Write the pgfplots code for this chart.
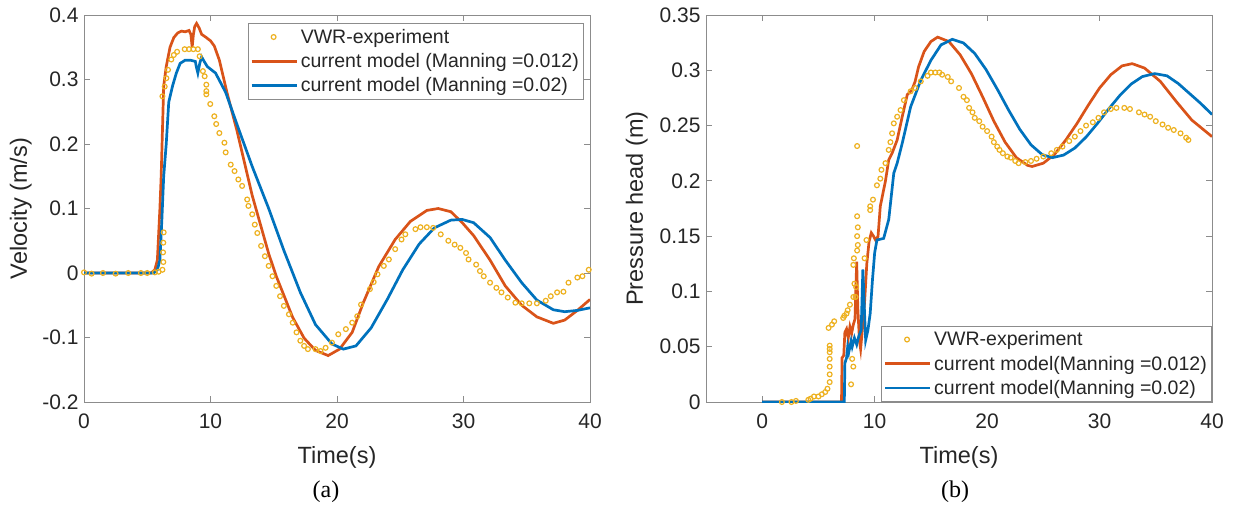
\documentclass[border=0pt]{standalone}
\usepackage{fontspec}
\setmainfont{Liberation Sans}
\newfontfamily\capfont{Liberation Serif}
\usepackage{pgfplots}
\pgfplotsset{compat=1.18}
\definecolor{mYellow}{HTML}{EDB120}
\definecolor{mOrange}{HTML}{D95319}
\definecolor{mBlue}{HTML}{0072BD}
\definecolor{axgray}{HTML}{8C8C8C}
\definecolor{txt}{HTML}{262626}

\pgfplotsset{
  matfig/.style={
    scale only axis, width=506pt, height=387pt,
    axis line style={axgray, line width=0.9pt},
    tick style={axgray, line width=0.9pt},
    major tick length=6pt,
    tick align=inside,
    /pgf/number format/assume math mode=true,
    scaled y ticks=false,
    ticklabel style={font=\fontsize{21}{24}\selectfont, text=txt},
    xticklabel style={yshift=-8pt},
    yticklabel style={xshift=-2pt},
    label style={font=\fontsize{23.5}{27}\selectfont, text=txt},
    legend cell align=left,
    legend style={draw=axgray, line width=0.8pt, fill=white,
      font=\fontsize{19.5}{22}\selectfont, text=txt,
      inner xsep=2pt, inner ysep=3pt, row sep=3pt,
      nodes={inner sep=2.8pt}},
  },
  expline/.style={mOrange, line width=2.7pt, mark=none,
    legend image code/.code={\draw[##1] (0pt,0pt) -- (45pt,0pt);}},
  blueline/.style={mBlue, line width=2.7pt, mark=none,
    legend image code/.code={\draw[##1] (0pt,0pt) -- (45pt,0pt);}},
  dots/.style={only marks, mark=o, mark size=2.4pt,
    mark options={mYellow, line width=1.2pt},
    legend image code/.code={\draw[##1] plot coordinates {(22pt,0pt)};}},
}

\begin{document}
\begin{tikzpicture}
\path[use as bounding box] (0pt,0pt) rectangle (1233pt,-509pt);

% ---------------- (a) velocity ----------------
\begin{axis}[matfig, at={(84pt,-15pt)}, anchor=north west,
  xmin=0, xmax=40, ymin=-0.2, ymax=0.4,
  xtick={0,10,20,30,40},
  ytick={-0.2,-0.1,0,0.1,0.2,0.3,0.4},
  yticklabels={-0.2,-0.1,0,0.1,0.2,0.3,0.4},
  xlabel={Time(s)}, ylabel={Velocity (m/s)},
  xlabel style={at={(axis description cs:0.5,-0.142)}, anchor=center},
  ylabel style={at={(axis description cs:-0.125,0.5)}, anchor=center},
  legend style={at={(1,1)}, anchor=north east, xshift=-6pt, yshift=-8pt},
]
\addplot[dots] coordinates {
(0,0.001)(0.6,-0.001)(1.5,0)(2.5,-0.001)(3.5,0)(4.5,0)(5.0,0)(5.6,0.001)
(5.9,0.002)(6.2,0.005)(6.27,0.017)(6.25,0.032)(6.27,0.047)(6.3,0.063)
(6.2,0.274)(6.38,0.289)(6.51,0.302)(6.64,0.315)(6.9,0.331)(7.1,0.338)(7.36,0.343)
(7.96,0.347)(8.3,0.347)(8.65,0.347)(9.0,0.347)(9.14,0.336)(9.4,0.313)(9.54,0.305)
(9.67,0.292)(9.67,0.282)(9.67,0.277)(9.98,0.262)(10.3,0.243)(10.45,0.231)(10.7,0.217)
(11.1,0.202)(11.2,0.187)(11.6,0.168)(11.9,0.158)(12.2,0.145)(12.5,0.135)(12.9,0.114)
(13.0,0.104)(13.3,0.091)(13.5,0.075)(13.7,0.062)(14.0,0.042)(14.3,0.026)(14.6,0.011)
(14.9,-0.005)(15.2,-0.02)(15.5,-0.036)(15.8,-0.051)(16.2,-0.064)(16.5,-0.077)
(16.8,-0.092)(17.1,-0.105)(17.4,-0.113)(17.7,-0.118)(18.3,-0.118)(18.7,-0.121)
(19.1,-0.116)(19.6,-0.108)(20.1,-0.095)(20.7,-0.087)(21.2,-0.077)(21.6,-0.067)
(21.9,-0.049)(22.6,-0.025)(22.9,-0.014)(23.2,-0.002)(23.7,0.011)(24.1,0.021)
(24.6,0.037)(25.1,0.052)(25.4,0.06)(26.2,0.068)(26.6,0.071)(27.1,0.071)(27.6,0.07)
(28.2,0.06)(28.8,0.05)(29.3,0.044)(29.75,0.039)(30.2,0.031)(30.4,0.021)(31.0,0.013)
(31.3,0.003)(31.6,-0.005)(32.1,-0.015)(32.6,-0.023)(33.0,-0.03)(33.5,-0.038)
(34.1,-0.046)(34.6,-0.047)(35.2,-0.047)(35.8,-0.047)(36.5,-0.043)(36.9,-0.036)
(37.4,-0.03)(37.9,-0.029)(38.3,-0.015)(39.0,-0.007)(39.4,-0.005)(39.9,0.005)
};
\addlegendentry{VWR-experiment}
\addplot[expline] coordinates {
(0,0)(3,0)(5.3,0)(5.6,0.005)(5.8,0.02)(6.0,0.1)(6.1,0.15)(6.2,0.22)(6.3,0.29)
(6.5,0.32)(6.8,0.35)(7.1,0.365)(7.4,0.372)(7.7,0.375)(8.0,0.374)(8.3,0.376)
(8.45,0.37)(8.55,0.35)(8.65,0.37)(8.75,0.382)(8.9,0.387)(9.1,0.38)(9.3,0.37)
(9.6,0.366)(10.0,0.36)(10.3,0.352)(10.7,0.33)(11.0,0.305)(11.3,0.28)(12.1,0.22)
(13.3,0.12)(14.6,0.03)(15.2,-0.005)(16.5,-0.069)(17.4,-0.101)(18.3,-0.12)
(19.3,-0.128)(20.2,-0.118)(21.2,-0.092)(22.1,-0.045)(23.3,0.01)(24.6,0.052)
(25.8,0.08)(27.1,0.097)(28.0,0.1)(29.0,0.095)(29.9,0.078)(30.8,0.058)(32.1,0.02)
(33.3,-0.02)(34.6,-0.05)(35.8,-0.068)(37.1,-0.078)(38.0,-0.073)(39.0,-0.058)(40,-0.041)
};
\addlegendentry{current model (Manning =0.012)}
\addplot[blueline] coordinates {
(0,0)(3,0)(5.5,0)(5.8,0.005)(6.0,0.02)(6.15,0.08)(6.3,0.15)(6.5,0.2)(6.7,0.265)
(7.0,0.29)(7.3,0.31)(7.6,0.325)(8.0,0.33)(8.4,0.33)(8.8,0.328)(8.9,0.318)(9.0,0.31)
(9.15,0.325)(9.3,0.335)(9.5,0.328)(9.75,0.32)(10.4,0.31)(11.2,0.28)(12.1,0.23)
(13.3,0.165)(14.6,0.1)(15.8,0.035)(17.1,-0.03)(18.3,-0.08)(19.6,-0.11)(20.5,-0.118)
(21.5,-0.113)(22.7,-0.085)(24.0,-0.04)(25.2,0.005)(26.5,0.045)(27.7,0.07)(29.0,0.082)
(29.9,0.083)(30.8,0.078)(32.1,0.055)(33.3,0.02)(34.6,-0.015)(35.8,-0.042)
(37.1,-0.057)(38.0,-0.06)(39.0,-0.058)(40,-0.054)
};
\addlegendentry{current model (Manning =0.02)}
\end{axis}

% ---------------- (b) pressure head ----------------
\begin{axis}[matfig, at={(706pt,-15pt)}, anchor=north west,
  xmin=-5, xmax=40, ymin=0, ymax=0.35,
  xtick={0,10,20,30,40},
  ytick={0,0.05,0.1,0.15,0.2,0.25,0.3,0.35},
  yticklabels={0,0.05,0.1,0.15,0.2,0.25,0.3,0.35},
  xlabel={Time(s)}, ylabel={Pressure head (m)},
  xlabel style={at={(axis description cs:0.5,-0.142)}, anchor=center},
  ylabel style={at={(axis description cs:-0.137,0.5)}, anchor=center},
  legend style={at={(1,0)}, anchor=south east},
]
\addplot[dots] coordinates {
(1.75,0)(2.6,0)(3.0,0.001)(4.1,0.002)(4.3,0.003)(4.6,0.005)(5.0,0.005)(5.3,0.007)
(5.6,0.009)(5.8,0.012)(6.0,0.018)(6.0,0.025)(6.0,0.032)(6.0,0.039)(6.0,0.045)
(6.0,0.048)(6.0,0.051)(5.9,0.067)(6.2,0.07)(6.4,0.073)
(7.2,0.076)(7.3,0.078)(7.5,0.08)(7.6,0.083)(7.8,0.088)(8.1,0.095)(8.2,0.107)
(8.1,0.124)(8.15,0.13)(8.0,0.039)(8.1,0.032)(7.9,0.016)
(8.3,0.095)(8.35,0.104)(8.44,0.137)(8.5,0.142)(8.44,0.15)(8.5,0.158)(8.44,0.168)
(8.44,0.2315)(9.27,0.1465)(9.1,0.13)(9.6,0.1736)(9.6,0.177)(9.85,0.183)(10.2,0.196)
(10.5,0.202)(10.6,0.21)(10.96,0.216)(11.25,0.228)(11.4,0.235)(11.55,0.243)
(11.7,0.252)(12.0,0.258)(12.3,0.264)(12.6,0.273)(13.2,0.281)(13.6,0.284)(14.1,0.29)
(14.7,0.295)(15.0,0.298)(15.4,0.298)(15.75,0.298)(16.0,0.296)(16.5,0.294)
(16.8,0.29)(17.5,0.284)(17.9,0.276)(18.2,0.273)(18.4,0.266)(18.7,0.262)(18.9,0.257)
(19.3,0.254)(19.6,0.249)(20.0,0.245)(20.4,0.24)(20.6,0.235)(20.9,0.231)(21.1,0.228)
(21.4,0.225)(21.8,0.222)(22.1,0.221)(22.5,0.218)(22.8,0.216)(23.4,0.217)(23.9,0.218)
(24.4,0.22)(25.0,0.222)(25.7,0.225)(26.2,0.228)(26.7,0.231)(27.3,0.236)(27.8,0.24)
(28.3,0.245)(28.8,0.25)(29.4,0.253)(29.9,0.257)(30.4,0.262)(31.0,0.265)(31.5,0.266)
(32.2,0.266)(32.7,0.265)(33.5,0.262)(34.0,0.26)(34.5,0.258)(35.0,0.254)(35.6,0.251)
(36.1,0.248)(36.6,0.246)(37.2,0.243)(37.7,0.239)(37.9,0.237)
};
\addlegendentry{VWR-experiment}
\addplot[expline] coordinates {
(0,0)(7.05,0)(7.1,0.04)(7.25,0.042)(7.35,0.063)(7.5,0.066)(7.65,0.058)(7.8,0.068)
(7.95,0.062)(8.1,0.07)(8.25,0.075)(8.4,0.127)(8.5,0.085)(8.65,0.055)(8.75,0.048)
(8.9,0.065)(9.1,0.09)(9.3,0.125)(9.5,0.145)(9.7,0.153)(9.9,0.15)(10.1,0.146)
(10.3,0.15)(10.5,0.177)(10.96,0.2)(11.25,0.219)(11.55,0.225)(12.0,0.237)
(12.45,0.258)(12.9,0.278)(13.3,0.282)(13.6,0.29)(13.9,0.303)(14.4,0.317)(15.0,0.326)
(15.6,0.33)(16.6,0.326)(17.6,0.314)(18.6,0.297)(19.6,0.276)(20.6,0.254)(21.6,0.235)
(22.6,0.221)(23.6,0.214)(24.0,0.213)(25.0,0.216)(26.0,0.224)(27.0,0.237)(28.0,0.252)
(29.0,0.2685)(30.0,0.284)(31.0,0.296)(32.0,0.304)(32.9,0.306)(34.0,0.302)
(35.4,0.29)(36.8,0.272)(38.2,0.255)(40,0.24)
};
\addlegendentry{current model(Manning =0.012)}
\addplot[blueline] coordinates {
(0,0)(7.3,0)(7.35,0.035)(7.5,0.04)(7.6,0.05)(7.7,0.045)(7.9,0.055)(8.0,0.05)
(8.2,0.058)(8.4,0.052)(8.6,0.06)(8.8,0.065)(8.95,0.12)(9.1,0.08)(9.2,0.056)
(9.4,0.065)(9.6,0.08)(9.8,0.11)(10.0,0.135)(10.2,0.1465)(10.8,0.148)(11.25,0.165)
(11.7,0.207)(12.0,0.216)(12.45,0.234)(13.2,0.267)(14.1,0.291)(15.0,0.309)
(15.9,0.323)(16.9,0.328)(17.9,0.3247)(18.9,0.3152)(19.9,0.3007)(20.9,0.283)
(21.9,0.2642)(22.9,0.2467)(23.9,0.2326)(24.9,0.2237)(25.8,0.221)(26.8,0.2233)
(27.8,0.2297)(28.8,0.2396)(29.8,0.2518)(30.8,0.2649)(31.8,0.2772)(32.8,0.2875)
(33.8,0.2943)(34.9,0.297)(36.0,0.295)(37.0,0.288)(38.0,0.279)(39.0,0.27)(40,0.26)
};
\addlegendentry{current model(Manning =0.02)}
\end{axis}

\node[font=\capfont\fontsize{24}{28}\selectfont] at (326pt,-492pt) {(a)};
\node[font=\capfont\fontsize{24}{28}\selectfont] at (955pt,-492pt) {(b)};
\end{tikzpicture}
\end{document}
